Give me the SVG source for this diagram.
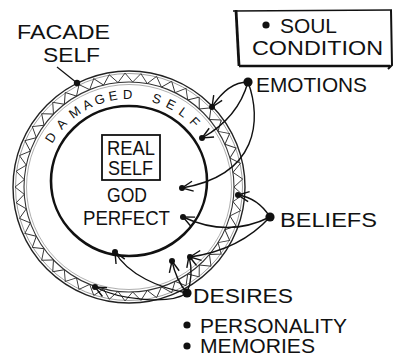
<svg xmlns="http://www.w3.org/2000/svg" xmlns:xlink="http://www.w3.org/1999/xlink" width="394" height="358" viewBox="0 0 394 358">
<style>
.t{font-family:"Liberation Sans",Arial,sans-serif;fill:#111;font-size:20px}
.s{font-family:"Liberation Sans",Arial,sans-serif;fill:#111;font-size:13px;text-anchor:middle}
.c{fill:none;stroke:#111;stroke-width:1.4;marker-end:url(#ah)}
.z{fill:none;stroke:#333;stroke-width:0.9}
.dot{fill:#111}
</style>
<defs>
<marker id="ah" viewBox="-13 -7 15 14" markerWidth="15" markerHeight="14" refX="0" refY="0" orient="auto" markerUnits="userSpaceOnUse">
<path d="M-11,-5 L0,0 L-11,5" fill="none" stroke="#111" stroke-width="1.4"/>
</marker>
<path id="zz" d="M234,187 L242.72,194.95 L232.98,201.61"/>
</defs>
<rect width="394" height="358" fill="#fff"/>

<g id="facade-ring">
<circle cx="129" cy="187" r="116" fill="none" stroke="#222" stroke-width="1.4"/>
<circle cx="129" cy="187" r="113.5" fill="none" stroke="#888" stroke-width="0.8"/>
<circle cx="129" cy="187" r="105" fill="none" stroke="#333" stroke-width="1.1"/>
<circle cx="129" cy="187" r="102.5" fill="none" stroke="#999" stroke-width="0.8"/>
<g class="z">
<use xlink:href="#zz"/>
<use xlink:href="#zz" transform="rotate(8 129 187)"/>
<use xlink:href="#zz" transform="rotate(16 129 187)"/>
<use xlink:href="#zz" transform="rotate(24 129 187)"/>
<use xlink:href="#zz" transform="rotate(32 129 187)"/>
<use xlink:href="#zz" transform="rotate(40 129 187)"/>
<use xlink:href="#zz" transform="rotate(48 129 187)"/>
<use xlink:href="#zz" transform="rotate(56 129 187)"/>
<use xlink:href="#zz" transform="rotate(64 129 187)"/>
<use xlink:href="#zz" transform="rotate(72 129 187)"/>
<use xlink:href="#zz" transform="rotate(80 129 187)"/>
<use xlink:href="#zz" transform="rotate(88 129 187)"/>
<use xlink:href="#zz" transform="rotate(96 129 187)"/>
<use xlink:href="#zz" transform="rotate(104 129 187)"/>
<use xlink:href="#zz" transform="rotate(112 129 187)"/>
<use xlink:href="#zz" transform="rotate(120 129 187)"/>
<use xlink:href="#zz" transform="rotate(128 129 187)"/>
<use xlink:href="#zz" transform="rotate(136 129 187)"/>
<use xlink:href="#zz" transform="rotate(144 129 187)"/>
<use xlink:href="#zz" transform="rotate(152 129 187)"/>
<use xlink:href="#zz" transform="rotate(160 129 187)"/>
<use xlink:href="#zz" transform="rotate(168 129 187)"/>
<use xlink:href="#zz" transform="rotate(176 129 187)"/>
<use xlink:href="#zz" transform="rotate(184 129 187)"/>
<use xlink:href="#zz" transform="rotate(192 129 187)"/>
<use xlink:href="#zz" transform="rotate(200 129 187)"/>
<use xlink:href="#zz" transform="rotate(208 129 187)"/>
<use xlink:href="#zz" transform="rotate(216 129 187)"/>
<use xlink:href="#zz" transform="rotate(224 129 187)"/>
<use xlink:href="#zz" transform="rotate(232 129 187)"/>
<use xlink:href="#zz" transform="rotate(240 129 187)"/>
<use xlink:href="#zz" transform="rotate(248 129 187)"/>
<use xlink:href="#zz" transform="rotate(256 129 187)"/>
<use xlink:href="#zz" transform="rotate(264 129 187)"/>
<use xlink:href="#zz" transform="rotate(272 129 187)"/>
<use xlink:href="#zz" transform="rotate(280 129 187)"/>
<use xlink:href="#zz" transform="rotate(288 129 187)"/>
<use xlink:href="#zz" transform="rotate(296 129 187)"/>
<use xlink:href="#zz" transform="rotate(304 129 187)"/>
<use xlink:href="#zz" transform="rotate(312 129 187)"/>
<use xlink:href="#zz" transform="rotate(320 129 187)"/>
<use xlink:href="#zz" transform="rotate(328 129 187)"/>
<use xlink:href="#zz" transform="rotate(336 129 187)"/>
<use xlink:href="#zz" transform="rotate(344 129 187)"/>
<use xlink:href="#zz" transform="rotate(352 129 187)"/>
</g>
</g>

<g id="damaged-self">
<text class="s" x="129" y="99" transform="rotate(-57.7 129 187)">D</text>
<text class="s" x="129" y="99" transform="rotate(-47 129 187)">A</text>
<text class="s" x="129" y="99" transform="rotate(-36 129 187)">M</text>
<text class="s" x="129" y="99" transform="rotate(-27 129 187)">A</text>
<text class="s" x="129" y="99" transform="rotate(-18.5 129 187)">G</text>
<text class="s" x="129" y="99" transform="rotate(-10 129 187)">E</text>
<text class="s" x="129" y="99" transform="rotate(-0.8 129 187)">D</text>
<text class="s" x="129" y="99" transform="rotate(17.5 129 187)">S</text>
<text class="s" x="129" y="99" transform="rotate(27 129 187)">E</text>
<text class="s" x="129" y="99" transform="rotate(36 129 187)">L</text>
<text class="s" x="129" y="99" transform="rotate(45.4 129 187)">F</text>
</g>

<g id="real-self">
<ellipse cx="129" cy="181" rx="78" ry="75" fill="none" stroke="#111" stroke-width="2.6"/>
<rect x="102" y="135" width="58" height="45" fill="none" stroke="#111" stroke-width="1.8"/>
<text class="t" x="107" y="155" font-size="16" textLength="48" lengthAdjust="spacingAndGlyphs">REAL</text>
<text class="t" x="108" y="175" font-size="16" textLength="45" lengthAdjust="spacingAndGlyphs">SELF</text>
<text class="t" x="107" y="202" font-size="19" textLength="40" lengthAdjust="spacingAndGlyphs">GOD</text>
<text class="t" x="83" y="225" font-size="19" textLength="87" lengthAdjust="spacingAndGlyphs">PERFECT</text>
</g>

<g id="facade-label">
<text class="t" x="17" y="39" textLength="93" lengthAdjust="spacingAndGlyphs">FACADE</text>
<text class="t" x="43" y="62" textLength="57" lengthAdjust="spacingAndGlyphs">SELF</text>
<path d="M57,67 L77,83" stroke="#111" stroke-width="1.3" fill="none"/>
<circle class="dot" cx="77" cy="83" r="3.2"/>
</g>

<g id="soul-condition">
<path d="M233,11 L392,10" stroke="#111" stroke-width="1.6" fill="none"/>
<path d="M236,10 L239,66" stroke="#111" stroke-width="2.8" fill="none"/>
<path d="M239,66 L390,66" stroke="#111" stroke-width="2.6" fill="none"/>
<path d="M391,10 L392,65 L388,69" stroke="#111" stroke-width="2" fill="none"/>
<circle class="dot" cx="266" cy="25" r="3.6"/>
<text class="t" x="280" y="33" textLength="57" lengthAdjust="spacingAndGlyphs">SOUL</text>
<text class="t" x="252" y="55" font-size="21" textLength="131" lengthAdjust="spacingAndGlyphs">CONDITION</text>
</g>

<g id="emotions">
<circle class="dot" cx="248" cy="82" r="4.6"/>
<text class="t" x="256" y="92" textLength="111" lengthAdjust="spacingAndGlyphs">EMOTIONS</text>
</g>

<g id="beliefs">
<circle class="dot" cx="270" cy="217" r="4.6"/>
<text class="t" x="280" y="227" textLength="97" lengthAdjust="spacingAndGlyphs">BELIEFS</text>
</g>

<g id="desires">
<circle class="dot" cx="187" cy="293" r="4.6"/>
<text class="t" x="193" y="303" textLength="100" lengthAdjust="spacingAndGlyphs">DESIRES</text>
</g>

<g id="personality">
<circle class="dot" cx="187" cy="325" r="3.6"/>
<text class="t" x="200" y="333" font-size="17" textLength="147" lengthAdjust="spacingAndGlyphs">PERSONALITY</text>
</g>

<g id="memories">
<circle class="dot" cx="187" cy="346" r="3.6"/>
<text class="t" x="200" y="353" font-size="17" textLength="115" lengthAdjust="spacingAndGlyphs">MEMORIES</text>
</g>

<g id="connectors">
<path class="c" d="M248,82 Q228,82 212,107"/>
<path class="c" d="M248,82 Q238,118 202,138"/>
<path class="c" d="M248,82 C262,120 258,175 182,188"/>
<path class="c" d="M270,217 Q258,198 238,195"/>
<path class="c" d="M270,217 Q228,238 183,217"/>
<path class="c" d="M270,217 Q240,250 190,257"/>
<path class="c" d="M187,293 Q176,280 172,261"/>
<path class="c" d="M187,293 Q194,276 189,256"/>
<path class="c" d="M187,293 C160,288 128,275 115,252"/>
<path class="c" d="M187,293 C170,305 120,300 95,287"/>
<circle class="dot" cx="212" cy="107" r="3"/>
<circle class="dot" cx="202" cy="138" r="3"/>
<circle class="dot" cx="182" cy="188" r="3"/>
<circle class="dot" cx="238" cy="195" r="3"/>
<circle class="dot" cx="183" cy="217" r="3"/>
<circle class="dot" cx="190" cy="257" r="3"/>
<circle class="dot" cx="172" cy="261" r="3"/>
<circle class="dot" cx="115" cy="252" r="3"/>
<circle class="dot" cx="95" cy="287" r="3"/>
</g>
</svg>
